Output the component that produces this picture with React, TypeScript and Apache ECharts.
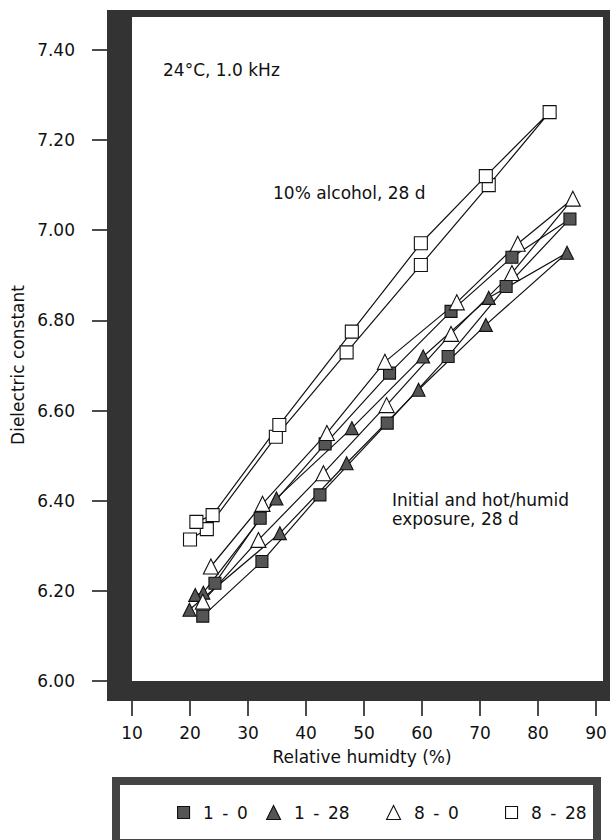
import React, { useEffect, useRef } from "react";
import * as echarts from "echarts";

// Relative humidity (%) and dielectric constant, in measurement order (up then down)
const s1_0X = [22.2, 32.4, 42.4, 54.0, 64.5, 74.5, 85.5, 75.5, 65.0, 54.4, 43.3, 32.1, 24.3];
const s1_0Y = [6.144, 6.265, 6.413, 6.572, 6.72, 6.875, 7.025, 6.94, 6.82, 6.683, 6.526, 6.361, 6.217];

const s1_28X = [19.9, 35.5, 47.0, 59.4, 71.0, 85.0, 71.5, 60.2, 47.9, 34.9, 22.3, 20.9];
const s1_28Y = [6.158, 6.328, 6.483, 6.646, 6.79, 6.95, 6.85, 6.72, 6.561, 6.405, 6.196, 6.191];

const s8_0X = [22.2, 31.8, 43.0, 53.9, 65.0, 75.5, 86.0, 76.5, 66.0, 53.6, 43.6, 32.5, 23.6];
const s8_0Y = [6.176, 6.313, 6.461, 6.612, 6.77, 6.905, 7.07, 6.97, 6.84, 6.708, 6.55, 6.393, 6.254];

const s8_28X = [20.0, 22.9, 34.8, 47.0, 59.8, 71.5, 82.0, 71.0, 59.8, 47.9, 35.4, 23.9, 21.1];
const s8_28Y = [6.314, 6.337, 6.542, 6.729, 6.923, 7.10, 7.262, 7.12, 6.971, 6.775, 6.568, 6.368, 6.353];

const seriesNames = ["1 - 0", "1 - 28", "8 - 0", "8 - 28"];
const xTicks = [10, 20, 30, 40, 50, 60, 70, 80, 90];
const yTicks = [6.0, 6.2, 6.4, 6.6, 6.8, 7.0, 7.2, 7.4];

const FONT = "DejaVu Sans";
const INK = "#111";
const FRAME = "#333";
const FILL = "#555";

const pairs = (xs: number[], ys: number[]) => xs.map((x, i) => [x, ys[i]]);

export default function App() {
  const ref = useRef<HTMLDivElement>(null);
  useEffect(() => {
    document.body.style.margin = "0";
    const chart = echarts.init(ref.current!, null, { renderer: "svg" });
    const mk = (name: string, xs: number[], ys: number[], symbol: string, size: number, filled: boolean) => ({
      name,
      type: "line",
      data: pairs(xs, ys),
      symbol,
      symbolSize: size,
      showAllSymbol: true,
      lineStyle: { color: INK, width: 1.2 },
      itemStyle: { color: filled ? FILL : "#fff", borderColor: INK, borderWidth: 1.1 },
      z: 3,
    });
    const legendAt = (name: string, left: number, icon: string, filled: boolean, size: number) => ({
      left,
      top: 804,
      padding: 0,
      itemWidth: size,
      itemHeight: size,
      selectedMode: false,
      data: [{ name, icon, itemStyle: { color: filled ? FILL : "#fff", borderColor: INK, borderWidth: 1.1 } }],
      formatter: (n: string) => "\u2002" + n.replace(/ /g, "\u2002"),
      textStyle: { fontFamily: FONT, fontSize: 17, color: INK },
    });
    chart.setOption({
      animation: false,
      backgroundColor: "#fff",
      grid: { left: 132, right: 7, top: 17, bottom: 159 },
      xAxis: {
        type: "value",
        min: 10,
        max: 91.2,
        interval: 10,
        axisLine: { show: false },
        splitLine: { show: false },
        axisTick: { show: true, length: 35, customValues: xTicks, lineStyle: { color: INK, width: 1.5 } },
        axisLabel: { customValues: xTicks, margin: 43, fontFamily: FONT, fontSize: 17, color: INK },
      },
      yAxis: {
        type: "value",
        min: 6.0,
        max: 7.473,
        interval: 0.2,
        axisLine: { show: false },
        splitLine: { show: false },
        axisTick: { show: true, length: 40, customValues: yTicks, lineStyle: { color: INK, width: 1.5 } },
        axisLabel: {
          customValues: yTicks,
          margin: 57,
          fontFamily: FONT,
          fontSize: 17,
          color: INK,
          formatter: (v: number) => v.toFixed(2),
        },
      },
      legend: [
        legendAt(seriesNames[0], 177, "rect", true, 12),
        legendAt(seriesNames[1], 266, "triangle", true, 14),
        legendAt(seriesNames[2], 386, "triangle", false, 14),
        legendAt(seriesNames[3], 505, "rect", false, 12),
      ],
      series: [
        mk(seriesNames[0], s1_0X, s1_0Y, "rect", 12, true),
        mk(seriesNames[1], s1_28X, s1_28Y, "triangle", 13, true),
        mk(seriesNames[2], s8_0X, s8_0Y, "triangle", 15, false),
        mk(seriesNames[3], s8_28X, s8_28Y, "rect", 13, false),
      ],
      graphic: [
        // plot frame
        { type: "rect", z: 100, shape: { x: 107, y: 10, width: 25, height: 691 }, style: { fill: FRAME } },
        { type: "rect", z: 100, shape: { x: 107, y: 10, width: 503, height: 7 }, style: { fill: FRAME } },
        { type: "rect", z: 100, shape: { x: 603, y: 10, width: 7, height: 691 }, style: { fill: FRAME } },
        { type: "rect", z: 100, shape: { x: 107, y: 681, width: 503, height: 20 }, style: { fill: FRAME } },
        // legend box
        {
          type: "rect",
          z: 1,
          shape: { x: 116, y: 781, width: 481, height: 62 },
          style: { fill: "#fff", stroke: "#444", lineWidth: 8 },
        },
        // annotations
        {
          type: "text",
          z: 100,
          x: 163,
          y: 70,
          style: { text: "24°C, 1.0 kHz", fontFamily: FONT, fontSize: 17, fill: INK, verticalAlign: "middle" },
        },
        {
          type: "text",
          z: 100,
          x: 273,
          y: 193,
          style: { text: "10% alcohol, 28 d", fontFamily: FONT, fontSize: 17, fill: INK, verticalAlign: "middle" },
        },
        {
          type: "text",
          z: 100,
          x: 392,
          y: 490,
          style: {
            text: "Initial and hot/humid\nexposure, 28 d",
            fontFamily: FONT,
            fontSize: 17,
            lineHeight: 19,
            fill: INK,
            verticalAlign: "top",
          },
        },
        {
          type: "text",
          z: 100,
          x: 18,
          y: 365,
          rotation: Math.PI / 2,
          style: {
            text: "Dielectric constant",
            fontFamily: FONT,
            fontSize: 17,
            fill: INK,
            align: "center",
            verticalAlign: "middle",
          },
        },
        {
          type: "text",
          z: 100,
          x: 362,
          y: 757,
          style: {
            text: "Relative humidty (%)",
            fontFamily: FONT,
            fontSize: 17,
            fill: INK,
            align: "center",
            verticalAlign: "middle",
          },
        },
      ],
    });
    return () => chart.dispose();
  }, []);
  return <div ref={ref} style={{ position: "fixed", left: 0, top: 0, width: 610, height: 840 }} />;
}
